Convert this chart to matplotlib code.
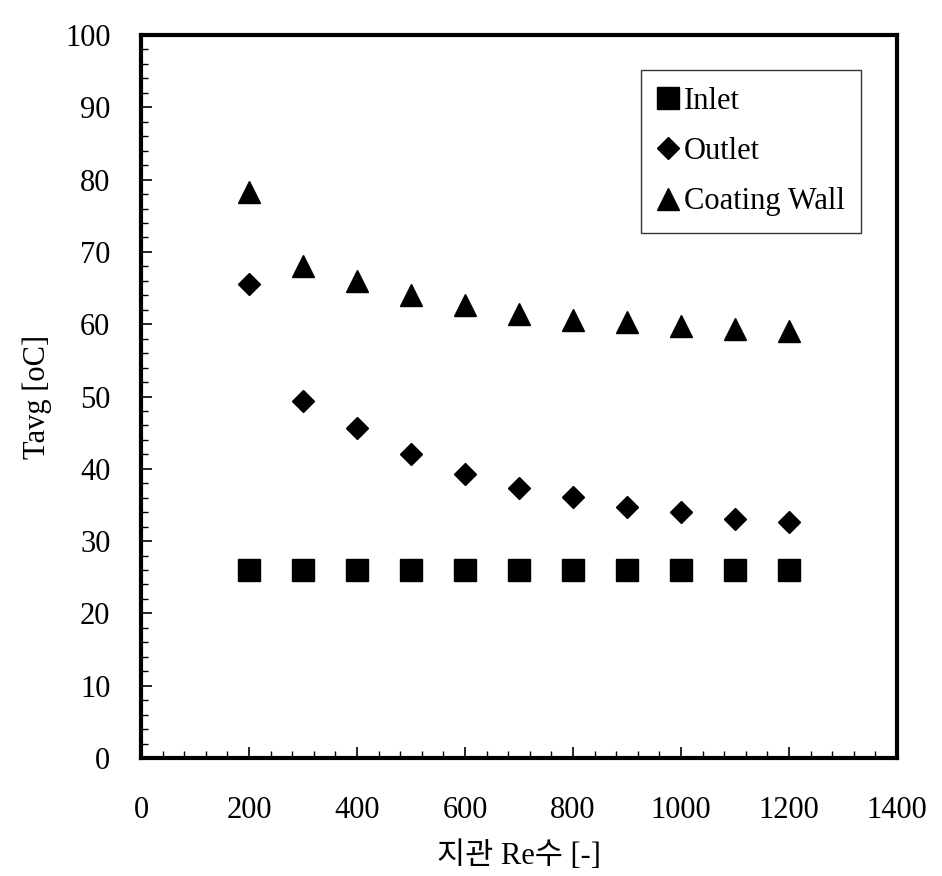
import numpy as np
import matplotlib
matplotlib.use('Agg')
import matplotlib.pyplot as plt
from matplotlib.ticker import MultipleLocator

plt.rcParams['font.family'] = ['Liberation Serif', 'Noto Sans CJK KR']

# data
re_num = [200, 300, 400, 500, 600, 700, 800, 900, 1000, 1100, 1200]
inlet = [26.0, 26.0, 26.0, 26.0, 26.0, 26.0, 26.0, 26.0, 26.0, 26.0, 26.0]
outlet = [65.5, 49.4, 45.7, 42.1, 39.3, 37.4, 36.1, 34.7, 34.0, 33.1, 32.6]
wall = [78.3, 68.1, 66.0, 64.1, 62.7, 61.4, 60.6, 60.3, 59.7, 59.3, 59.0]

fig = plt.figure(figsize=(9.42, 8.76), dpi=100)
ax = fig.add_axes([0.1497, 0.1347, 0.8025, 0.8253])

ax.plot(re_num, inlet, ls='none', marker='s', ms=16.5, color='k', label='Inlet')
ax.plot(re_num, outlet, ls='none', marker='D', ms=11.5, color='k', label='Outlet')
ax.plot(re_num, wall, ls='none', marker='^', ms=16.5, color='k', label='Coating Wall')

ax.set_xlim(0, 1400)
ax.set_ylim(0, 100)
ax.xaxis.set_major_locator(MultipleLocator(200))
ax.xaxis.set_minor_locator(MultipleLocator(40))
ax.yaxis.set_major_locator(MultipleLocator(10))
ax.yaxis.set_minor_locator(MultipleLocator(2))
ax.tick_params(which='both', direction='in', labelsize=22, top=False, right=False)
ax.tick_params(which='major', length=8, width=1.2)
ax.tick_params(which='minor', length=5, width=1.0)
ax.tick_params(axis='x', which='major', pad=27)
ax.tick_params(axis='y', which='major', pad=22)

for s in ax.spines.values():
    s.set_linewidth(3)

ax.set_xlabel('지관 Re수 [-]', fontsize=22, labelpad=12)
ax.set_ylabel('Tavg [oC]', fontsize=22, labelpad=9)

leg = ax.legend(loc='upper right', bbox_to_anchor=(0.953, 0.952), borderaxespad=0,
                fontsize=22, frameon=True, fancybox=False, edgecolor='k',
                handlelength=0.7, handletextpad=0.15, labelspacing=0.7,
                borderpad=0.55, markerscale=1.0)
leg.get_frame().set_linewidth(1.0)

fig.savefig('out.png', dpi=100, facecolor='white')
